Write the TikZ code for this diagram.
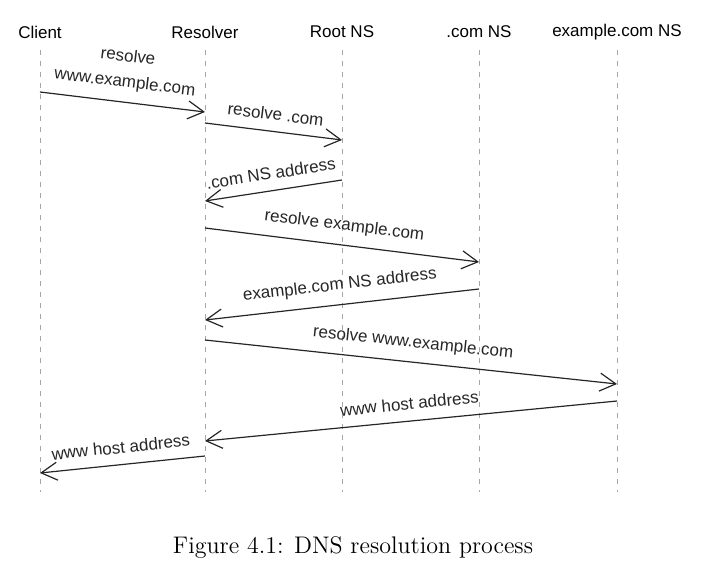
\documentclass[tikz,border=0pt]{standalone}
\usepackage{fontspec}
\setsansfont{Liberation Sans}
\usetikzlibrary{arrows.meta}

\begin{document}
\begin{tikzpicture}[x=0.5pt,y=-0.5pt, font=\sffamily\fontsize{8.5}{10}\selectfont]
\useasboundingbox (0,0) rectangle (706,577);
% lifelines
\foreach \name/\x/\txt in {client/40/Client, resolver/205/Resolver, root/342/Root NS, comns/479/.com NS, exns/617/example.com NS} {
 \node (\name) at (\x,32) {\txt};
 \coordinate (\name-top) at (\x,50);
 \coordinate (\name-bot) at (\x,492);
 \draw[black!35, dash pattern=on 2.5pt off 3pt] (\name-top) -- (\name-bot);
}
% messages
\foreach \i/\from/\ya/\to/\yb/\lbl in {
 1/client/92/resolver/112/{resolve\\[3pt]www.example.com},
 2/resolver/123/root/140/{resolve .com},
 3/root/180/resolver/201/{.com NS address},
 4/resolver/228/comns/262/{resolve example.com},
 5/comns/289/resolver/320/{example.com NS address},
 6/resolver/340/exns/384/{resolve www.example.com},
 7/exns/401/resolver/441/{www host address},
 8/resolver/456/client/473/{www host address}} {
 \coordinate (m\i-s) at (\from-top |- 0,\ya);
 \coordinate (m\i-e) at (\to-top |- 0,\yb);
 \draw[black!85, line width=0.6pt, -{Straight Barb[length=8pt,width=9pt]}] (m\i-s) -- (m\i-e)
   node[midway, above=2pt, sloped, align=center] {\lbl};
}
\node (caption) at (353,548) {\rmfamily\fontsize{12}{14}\selectfont Figure 4.1: DNS resolution process};
\end{tikzpicture}
\end{document}
